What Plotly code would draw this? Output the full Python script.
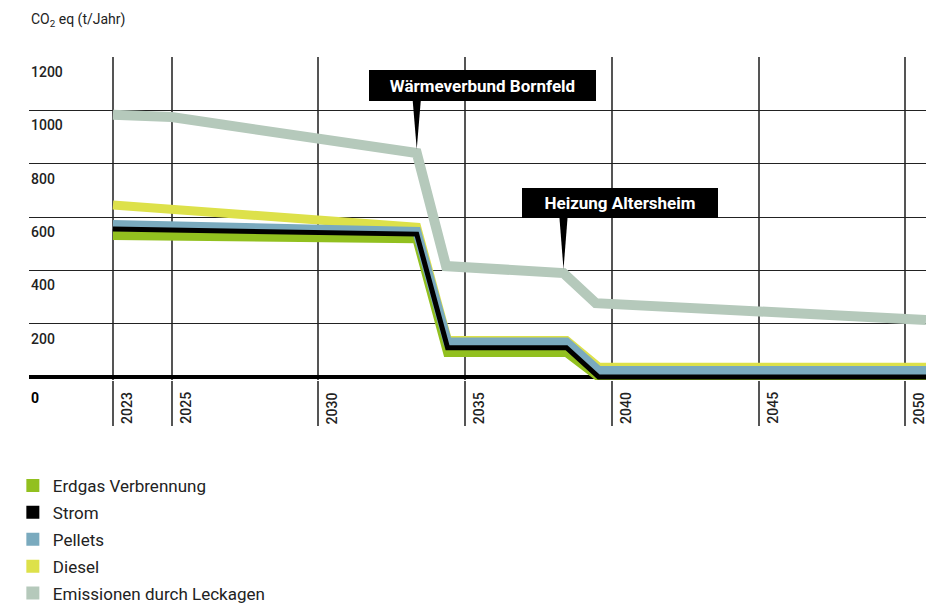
import plotly.graph_objects as go

# ---- data ----
years_main = [2023, 2033.35, 2034.4, 2038.45, 2039.55, 2050.7]
erdgas = [531, 519, 92, 92, 0, 0]
strom = [555, 536, 110, 110, 0, 0]
pellets = [572, 546, 131, 131, 24, 24]
diesel = [645, 562, 137, 137, 37, 37]

years_leck = [2023, 2025, 2033.35, 2034.35, 2038.35, 2039.45, 2050.7]
leckagen = [984, 975, 840, 416, 390, 277, 214]

x_ticks = [2023, 2025, 2030, 2035, 2040, 2045, 2050]
y_ticks = [1200, 1000, 800, 600, 400, 200]

series_names = ["Erdgas Verbrennung", "Strom", "Pellets", "Diesel", "Emissionen durch Leckagen"]
colors = {
    "Erdgas Verbrennung": "#92c01f",
    "Strom": "#000000",
    "Pellets": "#7aaabe",
    "Diesel": "#dde14a",
    "Emissionen durch Leckagen": "#b5c9bb",
}

annot_texts = ["Wärmeverbund Bornfeld", "Heizung Altersheim"]

FONT = "Roboto"
TXT = "#222222"

fig = go.Figure()

# lines (drawing order matters)
fig.add_trace(go.Scatter(x=years_leck, y=leckagen, mode="lines",
                         line=dict(color=colors["Emissionen durch Leckagen"], width=10),
                         showlegend=False, hoverinfo="skip"))
fig.add_trace(go.Scatter(x=years_main, y=diesel, mode="lines",
                         line=dict(color=colors["Diesel"], width=9), showlegend=False, hoverinfo="skip"))
fig.add_trace(go.Scatter(x=years_main, y=erdgas, mode="lines",
                         line=dict(color=colors["Erdgas Verbrennung"], width=9), showlegend=False, hoverinfo="skip"))
fig.add_trace(go.Scatter(x=years_main, y=pellets, mode="lines",
                         line=dict(color=colors["Pellets"], width=9), showlegend=False, hoverinfo="skip"))
fig.add_trace(go.Scatter(x=years_main, y=strom, mode="lines",
                         line=dict(color=colors["Strom"], width=5), showlegend=False, hoverinfo="skip"))

# legend entries (square swatches)
for i, name in enumerate(series_names):
    fig.add_trace(go.Scatter(x=[None], y=[None], mode="markers", name=name,
                             legendgroup="g%d" % i,
                             marker=dict(symbol="square", size=13, color=colors[name])))

annotations = []
# axis title
annotations.append(dict(text="CO<sub>2</sub> eq (t/Jahr)", xref="paper", yref="paper",
                        x=0, y=1.1146, xanchor="left", yanchor="middle", showarrow=False,
                        font=dict(family=FONT, size=14, color=TXT)))
# y tick labels below gridlines
for v in y_ticks:
    annotations.append(dict(text=str(v), xref="paper", yref="y", x=0, y=v, yshift=-15,
                            xanchor="left", yanchor="middle", showarrow=False,
                            font=dict(family=FONT, size=14, color=TXT, weight=500)))
annotations.append(dict(text="<b>0</b>", xref="paper", yref="y", x=0, y=0, yshift=-21,
                        xanchor="left", yanchor="middle", showarrow=False,
                        font=dict(family=FONT, size=14, color="#000")))
# x tick labels rotated
for yr in x_ticks:
    annotations.append(dict(text=str(yr), xref="x", yref="paper", x=yr, y=-0.0867, xshift=14,
                            xanchor="center", yanchor="middle", textangle=-90, showarrow=False,
                            font=dict(family=FONT, size=14, color=TXT, weight=500)))
# callout boxes
annotations.append(dict(text="<b>%s</b>" % annot_texts[0], xref="x", yref="y", x=2035.58, y=1095,
                        width=227, height=31, bgcolor="#000", borderpad=0, borderwidth=0,
                        showarrow=False, xanchor="center", yanchor="middle",
                        font=dict(family=FONT, size=17, color="#fff")))
annotations.append(dict(text="<b>%s</b>" % annot_texts[1], xref="x", yref="y", x=2040.29, y=652.5,
                        width=196, height=30, bgcolor="#000", borderpad=0, borderwidth=0,
                        showarrow=False, xanchor="center", yanchor="middle",
                        font=dict(family=FONT, size=17, color="#fff")))

# pointer wedges derived from the kink points
shapes = []
for kx, ky, top in [(years_leck[2], leckagen[2], 1040), (years_leck[4], leckagen[4], 600)]:
    hw = 0.14
    shapes.append(dict(type="path", xref="x", yref="y",
                       path="M %f,%f L %f,%f L %f,%f Z" % (kx - hw, top, kx + hw, top, kx, ky + 14),
                       fillcolor="#000", line=dict(width=0), layer="above"))

fig.update_layout(
    width=951, height=605,
    margin=dict(l=29, r=25, t=57, b=225, autoexpand=False),
    paper_bgcolor="#ffffff", plot_bgcolor="#ffffff",
    annotations=annotations, shapes=shapes,
    showlegend=True,
    legend=dict(x=-0.018, y=-0.2721, xanchor="left", yanchor="top",
                font=dict(family=FONT, size=17, color=TXT),
                tracegroupgap=1.8, itemwidth=30, bgcolor="rgba(0,0,0,0)"),
    xaxis=dict(range=[2020.14, 2050.7], tickvals=x_ticks, showticklabels=False,
               showgrid=True, gridcolor="#555555", gridwidth=1.5,
               ticks="outside", ticklen=45, tickwidth=1.5, tickcolor="#555555",
               zeroline=False, showline=False, fixedrange=True),
    yaxis=dict(range=[-11.25, 1200.4], tickvals=y_ticks, showticklabels=False,
               showgrid=True, gridcolor="#222222", gridwidth=1.3,
               zeroline=True, zerolinecolor="#000000", zerolinewidth=3.5,
               showline=False, fixedrange=True),
)

fig.write_html("out.html")
